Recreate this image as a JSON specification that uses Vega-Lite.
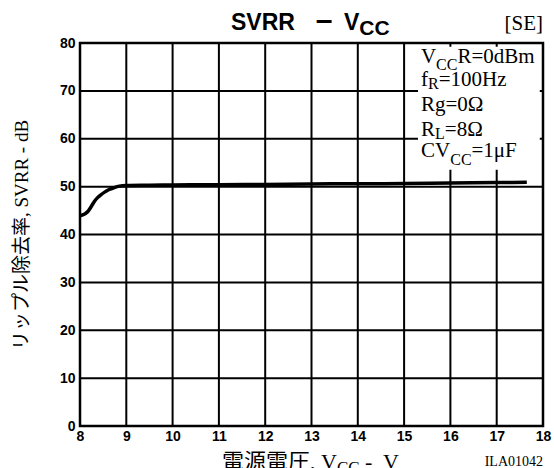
{
  "$schema": "https://vega.github.io/schema/vega-lite/v6.json",
  "width": 463,
  "height": 383,
  "autosize": {"type": "none"},
  "padding": {"left": 80, "top": 43, "right": 11, "bottom": 42},
  "background": "white",
  "config": {
    "view": {"stroke": "black", "strokeWidth": 2.5},
    "axis": {
      "grid": false,
      "domain": false,
      "ticks": false,
      "labelFont": "Liberation Sans",
      "labelFontWeight": "bold",
      "labelFontSize": 14,
      "labelColor": "black",
      "labelFlush": false,
      "labelOverlap": false
    }
  },
  "encoding": {
    "x": {
      "field": "x",
      "type": "quantitative",
      "scale": {"domain": [8, 18], "nice": false, "zero": false},
      "axis": {"values": [8, 9, 10, 11, 12, 13, 14, 15, 16, 17, 18], "title": null, "labelPadding": 3}
    },
    "y": {
      "field": "y",
      "type": "quantitative",
      "scale": {"domain": [0, 80], "nice": false, "zero": false},
      "axis": {
        "values": [0, 10, 20, 30, 40, 50, 60, 70, 80],
        "labelPadding": 5,
        "title": "リップル除去率, SVRR - dB",
        "titleFont": "Liberation Serif, Noto Sans CJK JP",
        "titleFontSize": 19,
        "titleFontWeight": "normal",
        "titleColor": "black",
        "titlePadding": 28
      }
    }
  },
  "layer": [
    {
      "data": {"values": [
        {"x": 9, "y": 0, "y2": 80}, {"x": 10, "y": 0, "y2": 80}, {"x": 11, "y": 0, "y2": 80},
        {"x": 12, "y": 0, "y2": 80}, {"x": 13, "y": 0, "y2": 80}, {"x": 14, "y": 0, "y2": 80},
        {"x": 15, "y": 0, "y2": 80}, {"x": 16, "y": 0, "y2": 80}, {"x": 17, "y": 0, "y2": 80}
      ]},
      "mark": {"type": "rule", "color": "black", "strokeWidth": 2},
      "encoding": {"y2": {"field": "y2"}}
    },
    {
      "data": {"values": [
        {"y": 10, "x": 8, "x2": 18}, {"y": 20, "x": 8, "x2": 18}, {"y": 30, "x": 8, "x2": 18},
        {"y": 40, "x": 8, "x2": 18}, {"y": 50, "x": 8, "x2": 18}, {"y": 60, "x": 8, "x2": 18},
        {"y": 70, "x": 8, "x2": 18}
      ]},
      "mark": {"type": "rule", "color": "black", "strokeWidth": 2},
      "encoding": {"x2": {"field": "x2"}}
    },
    {
      "data": {"values": [{"x": 15.3, "x2": 17.93, "y": 53.5, "y2": 79.2}]},
      "mark": {"type": "rect", "color": "white", "opacity": 1},
      "encoding": {"x2": {"field": "x2"}, "y2": {"field": "y2"}}
    },
    {
      "data": {"values": [
        {"x": 8.0, "y": 43.9}, {"x": 8.1, "y": 44.3}, {"x": 8.17, "y": 44.8}, {"x": 8.24, "y": 45.8},
        {"x": 8.31, "y": 46.9}, {"x": 8.38, "y": 47.7}, {"x": 8.45, "y": 48.3}, {"x": 8.54, "y": 48.9},
        {"x": 8.63, "y": 49.4}, {"x": 8.74, "y": 49.8}, {"x": 8.85, "y": 50.1}, {"x": 9.0, "y": 50.25},
        {"x": 9.5, "y": 50.3}, {"x": 10, "y": 50.35}, {"x": 11, "y": 50.4}, {"x": 12, "y": 50.45},
        {"x": 13, "y": 50.55}, {"x": 14, "y": 50.6}, {"x": 15, "y": 50.65}, {"x": 16, "y": 50.75},
        {"x": 17, "y": 50.85}, {"x": 17.65, "y": 50.9}
      ]},
      "mark": {"type": "line", "color": "black", "strokeWidth": 3.5, "interpolate": "monotone"}
    },
    {
      "data": {"values": [
        {"x": 15.365, "y": 75.8, "t": "V"},
        {"x": 16.153, "y": 75.8, "t": "R=0dBm"},
        {"x": 15.365, "y": 71.0, "t": "f"},
        {"x": 15.747, "y": 71.0, "t": "=100Hz"},
        {"x": 15.365, "y": 65.8, "t": "Rg=0Ω"},
        {"x": 15.365, "y": 60.6, "t": "R"},
        {"x": 15.879, "y": 60.6, "t": "=8Ω"},
        {"x": 15.365, "y": 56.2, "t": "CV"},
        {"x": 16.456, "y": 56.2, "t": "=1μF"}
      ]},
      "mark": {"type": "text", "align": "left", "baseline": "alphabetic", "font": "Liberation Serif", "fontSize": 21, "color": "black"},
      "encoding": {"text": {"field": "t"}}
    },
    {
      "data": {"values": [
        {"x": 15.689, "y": 74.4, "t": "CC"},
        {"x": 15.516, "y": 70.3, "t": "R"},
        {"x": 15.667, "y": 59.9, "t": "L"},
        {"x": 15.996, "y": 54.5, "t": "CC"}
      ]},
      "mark": {"type": "text", "align": "left", "baseline": "alphabetic", "font": "Liberation Serif", "fontSize": 16, "color": "black"},
      "encoding": {"text": {"field": "t"}}
    },
    {
      "data": {"values": [
        {"x": 11.261, "y": 82.7, "t": "SVRR"},
        {"x": 13.702, "y": 82.7, "t": "V"}
      ]},
      "mark": {"type": "text", "align": "left", "baseline": "alphabetic", "font": "Liberation Sans", "fontWeight": "bold", "fontSize": 23, "color": "black"},
      "encoding": {"text": {"field": "t"}}
    },
    {
      "data": {"values": [{"x": 13.27, "y": 82.7, "t": "–"}]},
      "mark": {"type": "text", "align": "center", "baseline": "alphabetic", "font": "Liberation Sans", "fontWeight": "bold", "fontSize": 30, "color": "black"},
      "encoding": {"text": {"field": "t"}}
    },
    {
      "data": {"values": [{"x": 14.032, "y": 81.66, "t": "CC"}]},
      "mark": {"type": "text", "align": "left", "baseline": "alphabetic", "font": "Liberation Sans", "fontWeight": "bold", "fontSize": 21, "color": "black"},
      "encoding": {"text": {"field": "t"}}
    },
    {
      "data": {"values": [{"x": 18, "y": 82.7, "t": "[SE]"}]},
      "mark": {"type": "text", "align": "right", "baseline": "alphabetic", "font": "Liberation Serif", "fontSize": 21, "color": "black"},
      "encoding": {"text": {"field": "t"}}
    },
    {
      "data": {"values": [
        {"x": 11.067, "y": -8.98, "t": "電源電圧, V"},
        {"x": 14.156, "y": -8.98, "t": "-"},
        {"x": 14.544, "y": -8.98, "t": "V"}
      ]},
      "mark": {"type": "text", "align": "left", "baseline": "alphabetic", "font": "Liberation Serif, Noto Sans CJK JP", "fontSize": 22, "color": "black"},
      "encoding": {"text": {"field": "t"}}
    },
    {
      "data": {"values": [{"x": 13.549, "y": -9.8, "t": "CC"}]},
      "mark": {"type": "text", "align": "left", "baseline": "alphabetic", "font": "Liberation Serif", "fontSize": 17, "color": "black"},
      "encoding": {"text": {"field": "t"}}
    },
    {
      "data": {"values": [{"x": 18, "y": -8.36, "t": "ILA01042"}]},
      "mark": {"type": "text", "align": "right", "baseline": "alphabetic", "font": "Liberation Serif", "fontSize": 14, "color": "black"},
      "encoding": {"text": {"field": "t"}}
    }
  ]
}
